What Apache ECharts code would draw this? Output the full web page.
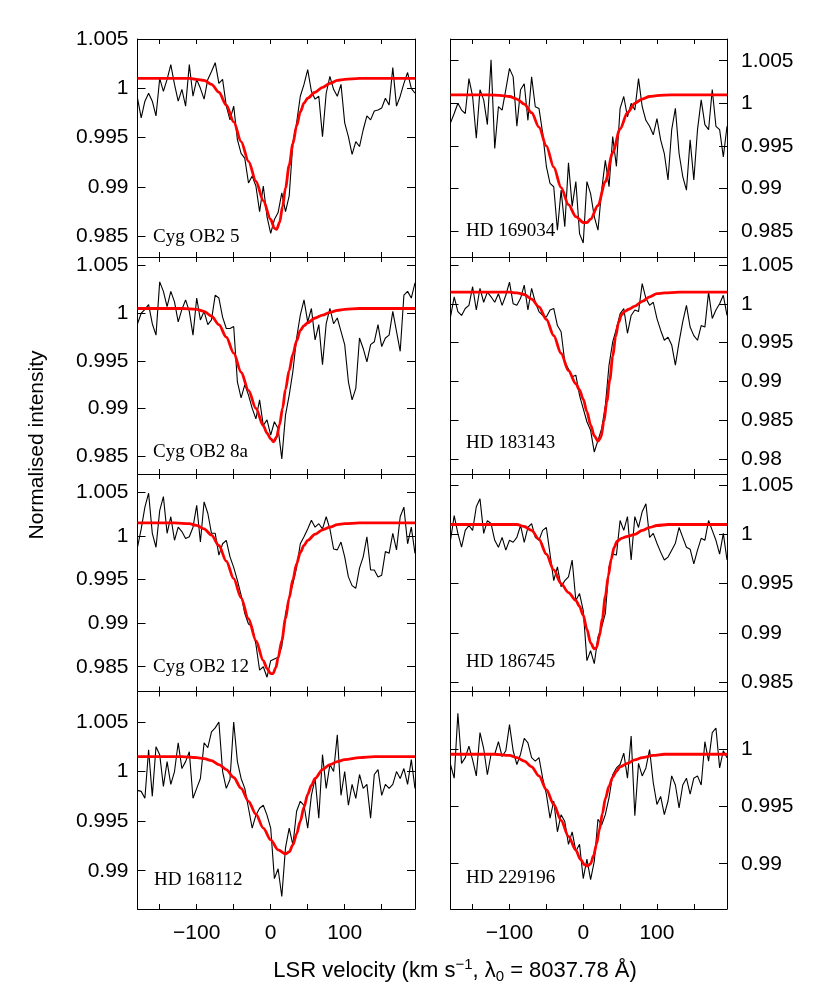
<!DOCTYPE html>
<html><head><meta charset="utf-8">
<script src="https://cdn.jsdelivr.net/npm/echarts@6/dist/echarts.min.js"></script>
<style>html,body{margin:0;padding:0;background:#fff}#c{width:830px;height:990px}</style>
</head><body><div id="c"></div>
<script>
// velocity grid of the observed spectra (km/s)
const VEL = [-180,-175,-170,-165,-160,-155,-150,-145,-140,-135,-130,-125,-120,-115,-110,-105,-100,-95,-90,-85,-80,-75,-70,-65,-60,-55,-50,-45,-40,-35,-30,-25,-20,-15,-10,-5,0,5,10,15,20,25,30,35,40,45,50,55,60,65,70,75,80,85,90,95,100,105,110,115,120,125,130,135,140,145,150,155,160,165,170,175,180,185,190,195];

const xTickLabels = [-100, 0, 100];
const xMinorTicks = [-150, -100, -50, 0, 50, 100, 150];

// Cyg OB2 5
const cyg5Obs = [0.9990,0.9970,0.9987,0.9995,0.9987,0.9972,1.0010,0.9997,1.0009,1.0024,1.0004,0.9987,0.9999,0.9982,1.0024,0.9992,1.0009,1.0000,0.9989,1.0009,1.0017,1.0026,1.0005,1.0009,0.9982,0.9968,0.9982,0.9948,0.9934,0.9929,0.9904,0.9911,0.9901,0.9875,0.9901,0.9870,0.9853,0.9867,0.9874,0.9894,0.9875,0.9891,0.9945,0.9965,0.9992,1.0004,1.0019,0.9997,0.9989,0.9992,0.9951,0.9995,1.0012,0.9999,0.9992,1.0004,0.9965,0.9951,0.9933,0.9946,0.9941,0.9958,0.9972,0.9968,0.9977,0.9978,0.9980,0.9990,0.9983,1.0021,0.9982,0.9992,1.0005,1.0016,1.0000,0.9995];
const cyg5FitV = [-180,-110,-100,-90,-80,-70,-60,-50,-40,-30,-20,-10,0,5,8,12,16,20,25,30,35,40,45,50,60,70,80,90,100,120,195];
const cyg5Fit  = [1.0010,1.0010,1.0009,1.0008,1.0004,0.9996,0.9983,0.9966,0.9946,0.9926,0.9906,0.9886,0.9867,0.9858,0.9857,0.9864,0.9880,0.9899,0.9922,0.9944,0.9962,0.9976,0.9985,0.9990,0.9996,1.0001,1.0005,1.0008,1.0009,1.0010,1.0010];
const cyg5Ticks = [0.985, 0.99, 0.995, 1, 1.005];

// HD 169034
const hd169034Obs = [0.9977,0.9988,1.0000,0.9992,0.9988,1.0029,1.0008,0.9959,1.0016,1.0004,0.9975,1.0051,0.9947,0.9996,0.9992,1.0016,1.0041,1.0031,0.9973,1.0016,1.0023,0.9980,1.0031,0.9996,0.9994,0.9965,0.9926,0.9906,0.9902,0.9851,0.9898,0.9855,0.9930,0.9879,0.9908,0.9847,0.9836,0.9908,0.9894,0.9867,0.9851,0.9898,0.9933,0.9902,0.9961,0.9926,0.9994,1.0008,0.9984,1.0000,0.9992,1.0029,0.9996,0.9980,0.9973,0.9963,0.9982,0.9957,0.9941,0.9910,0.9969,0.9994,0.9941,0.9914,0.9898,0.9957,0.9910,0.9969,1.0004,0.9975,0.9969,1.0016,0.9973,0.9969,0.9937,0.9973];
const hd169034FitV = [-180,-130,-110,-100,-90,-80,-70,-60,-50,-40,-30,-20,-10,0,5,10,20,30,40,50,60,70,80,90,100,120,195];
const hd169034Fit  = [1.0010,1.0010,1.0009,1.0008,1.0005,0.9999,0.9989,0.9972,0.9950,0.9925,0.9901,0.9881,0.9867,0.9860,0.9860,0.9864,0.9880,0.9908,0.9942,0.9970,0.9989,1.0000,1.0005,1.0008,1.0009,1.0010,1.0010];
const hd169034Ticks = [0.985, 0.99, 0.995, 1, 1.005];

// Cyg OB2 8a
const cyg8aObs = [0.9989,1.0000,1.0004,1.0009,0.9989,0.9977,1.0033,1.0023,1.0007,1.0023,1.0012,0.9991,1.0004,1.0014,1.0002,0.9977,1.0016,0.9993,1.0002,0.9988,0.9993,1.0019,1.0016,0.9996,0.9984,0.9984,0.9986,0.9928,0.9911,0.9925,0.9914,0.9900,0.9889,0.9909,0.9882,0.9888,0.9872,0.9886,0.9879,0.9847,0.9893,0.9914,0.9939,0.9974,0.9998,1.0014,0.9991,1.0005,0.9972,0.9988,0.9946,0.9989,1.0005,0.9989,0.9995,0.9981,0.9967,0.9928,0.9909,0.9921,0.9974,0.9963,0.9949,0.9967,0.9970,0.9988,0.9965,0.9974,0.9977,1.0002,0.9981,0.9960,1.0019,1.0023,1.0016,1.0032];
const cyg8aFitV = [-180,-120,-100,-90,-80,-70,-60,-50,-40,-30,-20,-10,-5,0,4,8,12,16,20,25,30,35,40,45,50,60,70,80,90,100,120,195];
const cyg8aFit  = [1.0005,1.0005,1.0004,1.0002,0.9997,0.9988,0.9975,0.9958,0.9938,0.9919,0.9900,0.9882,0.9874,0.9868,0.9865,0.9870,0.9883,0.9900,0.9920,0.9940,0.9957,0.9971,0.9982,0.9987,0.9990,0.9995,0.9998,1.0001,1.0003,1.0004,1.0005,1.0005];
const cyg8aTicks = [0.985, 0.99, 0.995, 1, 1.005];

// HD 183143
const hd183143Obs = [0.9983,1.0009,0.9990,0.9985,0.9994,0.9998,1.0022,0.9992,1.0020,1.0002,1.0015,1.0009,1.0002,1.0013,0.9998,1.0011,1.0028,1.0000,0.9998,1.0007,1.0024,0.9992,1.0020,1.0002,0.9990,0.9985,0.9983,0.9992,0.9994,0.9972,0.9964,0.9925,0.9916,0.9906,0.9908,0.9882,0.9865,0.9848,0.9837,0.9809,0.9824,0.9839,0.9869,0.9921,0.9951,0.9968,0.9987,0.9994,0.9962,0.9985,0.9992,0.9990,1.0026,1.0007,0.9998,1.0002,0.9981,0.9966,0.9953,0.9957,0.9947,0.9921,0.9951,0.9977,0.9998,0.9970,0.9959,0.9953,0.9972,0.9970,1.0015,0.9981,0.9992,1.0000,1.0011,0.9985];
const hd183143FitV = [-180,-120,-100,-90,-80,-70,-60,-50,-40,-30,-20,-10,-5,0,5,10,15,20,24,28,32,36,40,44,48,52,56,62,70,80,90,100,110,130,195];
const hd183143Fit  = [1.0015,1.0015,1.0015,1.0014,1.0012,1.0006,0.9996,0.9980,0.9959,0.9936,0.9914,0.9897,0.9889,0.9877,0.9861,0.9844,0.9830,0.9823,0.9828,0.9848,0.9874,0.9902,0.9932,0.9958,0.9976,0.9986,0.9990,0.9993,0.9997,1.0003,1.0009,1.0013,1.0014,1.0015,1.0015];
const hd183143Ticks = [0.98, 0.985, 0.99, 0.995, 1, 1.005];

// Cyg OB2 12
const cyg12Obs = [0.9987,1.0008,1.0033,1.0049,1.0003,0.9987,1.0029,1.0045,1.0003,1.0022,0.9995,1.0010,1.0005,0.9997,0.9999,1.0010,1.0035,0.9993,1.0039,1.0026,1.0003,1.0003,0.9978,0.9991,0.9995,0.9976,0.9964,0.9949,0.9932,0.9911,0.9899,0.9896,0.9876,0.9846,0.9850,0.9838,0.9857,0.9859,0.9861,0.9873,0.9911,0.9930,0.9945,0.9964,0.9991,0.9999,1.0008,1.0018,1.0010,1.0014,1.0008,1.0022,1.0008,0.9985,0.9984,0.9993,0.9976,0.9953,0.9943,0.9940,0.9963,0.9976,0.9999,0.9961,0.9961,0.9953,0.9955,0.9982,0.9980,1.0003,0.9984,1.0022,1.0033,0.9991,1.0010,0.9980];
const cyg12FitV = [-180,-130,-110,-100,-90,-80,-70,-60,-50,-40,-30,-20,-10,-5,0,3,7,10,15,20,25,30,35,40,45,50,60,70,80,90,100,120,195];
const cyg12Fit  = [1.0015,1.0015,1.0014,1.0012,1.0008,1.0001,0.9989,0.9971,0.9951,0.9929,0.9905,0.9880,0.9857,0.9848,0.9842,0.9842,0.9849,0.9860,0.9880,0.9905,0.9929,0.9950,0.9968,0.9981,0.9989,0.9995,1.0002,1.0007,1.0010,1.0013,1.0014,1.0015,1.0015];
const cyg12Ticks = [0.985, 0.99, 0.995, 1, 1.005];

// HD 186745
const hd186745Obs = [0.9994,1.0019,1.0001,0.9987,1.0004,1.0009,1.0004,1.0028,1.0036,1.0001,1.0014,1.0011,0.9994,0.9987,0.9997,0.9984,0.9994,0.9992,0.9997,1.0009,0.9992,1.0007,1.0011,0.9997,0.9994,1.0004,1.0007,0.9980,0.9953,0.9967,0.9947,0.9953,0.9957,0.9974,0.9933,0.9940,0.9923,0.9872,0.9882,0.9869,0.9896,0.9906,0.9920,0.9967,0.9980,0.9979,1.0014,1.0004,1.0018,0.9974,1.0018,1.0007,1.0023,1.0031,0.9997,1.0001,0.9991,0.9982,0.9974,0.9977,0.9984,0.9991,1.0007,0.9997,0.9987,0.9985,0.9970,0.9984,0.9996,0.9994,1.0014,1.0004,0.9994,0.9980,1.0001,0.9974];
const hd186745FitV = [-180,-110,-90,-80,-70,-60,-50,-40,-30,-20,-10,-5,0,5,10,15,18,22,26,30,34,38,42,46,52,60,70,80,90,100,115,195];
const hd186745Fit  = [1.0010,1.0010,1.0010,1.0008,1.0004,0.9995,0.9980,0.9964,0.9950,0.9941,0.9933,0.9927,0.9918,0.9904,0.9890,0.9884,0.9885,0.9897,0.9915,0.9937,0.9958,0.9975,0.9987,0.9993,0.9996,0.9998,1.0000,1.0004,1.0007,1.0009,1.0010,1.0010];
const hd186745Ticks = [0.985, 0.99, 0.995, 1, 1.005];

// HD 168112
const hd168112Obs = [0.9981,0.9980,0.9973,1.0022,0.9975,1.0025,1.0017,0.9985,1.0010,0.9987,1.0000,1.0029,1.0003,1.0010,1.0020,0.9973,0.9983,0.9993,1.0029,1.0024,1.0040,1.0044,1.0050,1.0000,0.9983,0.9992,1.0050,1.0010,0.9993,0.9983,0.9963,0.9943,0.9956,0.9963,0.9966,0.9956,0.9943,0.9892,0.9902,0.9874,0.9923,0.9943,0.9926,0.9960,0.9970,0.9966,0.9943,0.9976,0.9993,0.9953,1.0017,0.9983,1.0007,1.0000,1.0037,0.9976,1.0000,0.9966,0.9987,0.9973,0.9997,0.9983,0.9987,0.9953,0.9997,1.0002,0.9976,0.9987,0.9983,0.9987,1.0000,0.9993,1.0003,0.9987,1.0012,0.9983];
const hd168112FitV = [-180,-120,-100,-90,-80,-70,-60,-50,-40,-30,-20,-10,0,10,20,25,30,35,40,45,50,55,60,70,80,90,100,120,140,195];
const hd168112Fit  = [1.0015,1.0015,1.0014,1.0013,1.0011,1.0007,1.0002,0.9994,0.9983,0.9970,0.9957,0.9943,0.9931,0.9921,0.9917,0.9919,0.9926,0.9937,0.9950,0.9964,0.9977,0.9986,0.9993,1.0002,1.0007,1.0010,1.0012,1.0014,1.0015,1.0015];
const hd168112Ticks = [0.99, 0.995, 1, 1.005];

// HD 229196
const hd229196Obs = [0.9987,0.9975,1.0032,0.9988,0.9993,1.0003,0.9991,0.9977,1.0015,1.0001,0.9978,0.9996,0.9996,1.0007,0.9994,0.9999,1.0022,0.9999,0.9987,0.9996,1.0010,1.0006,0.9993,0.9990,0.9993,0.9975,0.9961,0.9940,0.9955,0.9928,0.9943,0.9937,0.9917,0.9928,0.9911,0.9917,0.9887,0.9904,0.9886,0.9902,0.9939,0.9934,0.9943,0.9958,0.9978,0.9984,0.9987,0.9997,0.9975,1.0012,0.9942,0.9988,0.9977,0.9984,1.0000,0.9971,0.9952,0.9959,0.9943,0.9955,0.9977,0.9969,0.9949,0.9969,0.9975,0.9961,0.9975,0.9977,0.9969,1.0007,0.9990,1.0015,1.0019,0.9984,0.9999,0.9993];
const hd229196FitV = [-180,-120,-100,-90,-80,-70,-60,-50,-40,-30,-20,-10,-4,2,6,10,14,18,22,26,30,35,40,45,50,60,70,80,95,110,195];
const hd229196Fit  = [0.9996,0.9996,0.9995,0.9993,0.9990,0.9985,0.9977,0.9965,0.9952,0.9938,0.9924,0.9912,0.9904,0.9899,0.9898,0.9900,0.9907,0.9917,0.9930,0.9944,0.9957,0.9968,0.9976,0.9981,0.9985,0.9988,0.9991,0.9993,0.9995,0.9996,0.9996];
const hd229196Ticks = [0.99, 0.995, 1];

const panels = [
  {name:'Cyg OB2 5',  obs:cyg5Obs,  fitV:cyg5FitV,  fit:cyg5Fit,  ticks:cyg5Ticks,  yMin:0.9829, yMax:1.0050, col:0,row:0, lx:153, ly:245},
  {name:'HD 169034',  obs:hd169034Obs, fitV:hd169034FitV, fit:hd169034Fit, ticks:hd169034Ticks, yMin:0.98195, yMax:1.00755, col:1,row:0, lx:466, ly:239},
  {name:'Cyg OB2 8a', obs:cyg8aObs, fitV:cyg8aFitV, fit:cyg8aFit, ticks:cyg8aTicks, yMin:0.98311, yMax:1.00591, col:0,row:1, lx:153, ly:460},
  {name:'HD 183143',  obs:hd183143Obs, fitV:hd183143FitV, fit:hd183143Fit, ticks:hd183143Ticks, yMin:0.97807, yMax:1.00603, col:1,row:1, lx:466, ly:451},
  {name:'Cyg OB2 12', obs:cyg12Obs, fitV:cyg12FitV, fit:cyg12Fit, ticks:cyg12Ticks, yMin:0.98216, yMax:1.0071, col:0,row:2, lx:153, ly:675},
  {name:'HD 186745',  obs:hd186745Obs, fitV:hd186745FitV, fit:hd186745Fit, ticks:hd186745Ticks, yMin:0.98407, yMax:1.00612, col:1,row:2, lx:466, ly:670},
  {name:'HD 168112',  obs:hd168112Obs, fitV:hd168112FitV, fit:hd168112Fit, ticks:hd168112Ticks, yMin:0.98614, yMax:1.00807, col:0,row:3, lx:154, ly:888},
  {name:'HD 229196',  obs:hd229196Obs, fitV:hd229196FitV, fit:hd229196Fit, ticks:hd229196Ticks, yMin:0.98603, yMax:1.0051, col:1,row:3, lx:466, ly:886}
];

const colLeft = [137.5, 450.5], colWidth = [277.5, 276.5];
const rowTop = [39, 257, 474, 691.5], rowH = [218, 217, 217.5, 217.5];
const SANS = 'Liberation Sans, Arial, Helvetica, sans-serif';
const SERIF = 'Liberation Serif, Times New Roman, serif';
const minus = v => (v < 0 ? '\u2212' + Math.abs(v) : String(v));
const yFmt = v => String(+(+v).toFixed(3));

const grid = [], xAxis = [], yAxis = [], series = [], graphic = [];
panels.forEach((p, i) => {
  grid.push({left: colLeft[p.col], top: rowTop[p.row], width: colWidth[p.col], height: rowH[p.row], containLabel:false});
  const line = {show:true, onZero:false, lineStyle:{color:'#000', width:1}};
  ['bottom','top'].forEach(pos => {
    xAxis.push({gridIndex:i, type:'value', min:-180, max:195, position:pos,
      axisLine: line,
      axisTick:{show:true, inside:true, length:5, customValues:xMinorTicks, lineStyle:{color:'#000', width:1}},
      axisLabel:{show: pos==='bottom' && p.row===3, customValues:xTickLabels, formatter:minus, fontSize:21, fontFamily:SANS, color:'#000', margin:14},
      splitLine:{show:false}});
  });
  ['left','right'].forEach(pos => {
    yAxis.push({gridIndex:i, type:'value', min:p.yMin, max:p.yMax, position:pos, scale:true,
      axisLine: line,
      axisTick:{show:true, inside:true, length:8, customValues:p.ticks, lineStyle:{color:'#000', width:1}},
      axisLabel:{show: (pos==='left') === (p.col===0), customValues:p.ticks, formatter:yFmt, fontSize:21, fontFamily:SANS, color:'#000', margin: pos==='left' ? 9 : 14, showMinLabel:true, showMaxLabel:true},
      splitLine:{show:false}});
  });
  series.push({type:'line', xAxisIndex:2*i, yAxisIndex:2*i, data: VEL.map((v,k)=>[v, p.obs[k]]),
    symbol:'none', lineStyle:{color:'#000', width:1.1}, clip:true, z:2, animation:false});
  series.push({type:'line', xAxisIndex:2*i, yAxisIndex:2*i, data: p.fitV.map((v,k)=>[v, p.fit[k]]),
    symbol:'none', smooth:0.3, smoothMonotone:'x', lineStyle:{color:'#ff0000', width:2.8}, clip:true, z:3, animation:false});
  graphic.push({type:'text', left:p.lx, top:p.ly - 17, z:10,
    style:{text:p.name, font:'19px ' + SERIF, fill:'#000'}});
});

graphic.push({type:'text', x:37, y:445, rotation:Math.PI/2, z:10,
  style:{text:'Normalised intensity', font:'21px ' + SANS, fill:'#000', align:'center', verticalAlign:'middle'}});
graphic.push({type:'text', x:455, y:971, z:10,
  style:{text:'LSR velocity (km s{sup|\u22121}, \u03bb{sub|0} = 8037.78 \u00c5)', font:'22px ' + SANS, fill:'#000', align:'center', verticalAlign:'middle',
    rich:{sup:{fontSize:15, fontFamily:SANS, verticalAlign:'top', padding:[0,0,12,0]}, sub:{fontSize:15, fontFamily:SANS, verticalAlign:'bottom', padding:[10,0,0,0]}}}});

const chart = echarts.init(document.getElementById('c'), null, {renderer:'canvas'});
chart.setOption({animation:false, backgroundColor:'#fff', grid, xAxis, yAxis, series, graphic});
</script></body></html>
